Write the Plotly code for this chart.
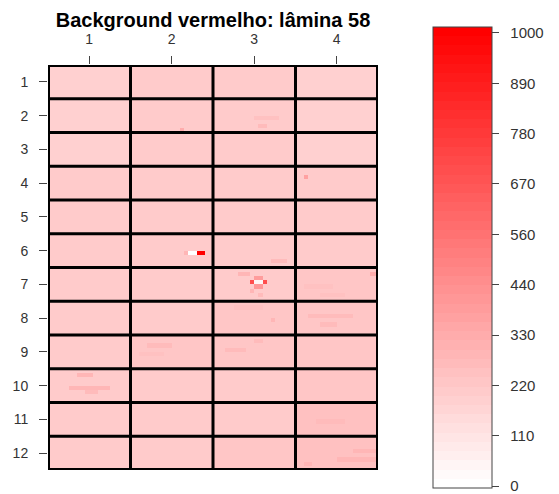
import numpy as np
import plotly.graph_objects as go

# ---- data ----
col_labels = ["1", "2", "3", "4"]
row_labels = [str(i) for i in range(1, 13)]

# mean background per block (rows 1..12, columns 1..4)
block_means = [
    [195, 205, 200, 195],
    [195, 200, 200, 190],
    [195, 200, 200, 195],
    [200, 200, 205, 200],
    [200, 200, 200, 200],
    [205, 205, 210, 205],
    [205, 205, 215, 220],
    [210, 210, 220, 230],
    [210, 225, 230, 225],
    [215, 205, 215, 235],
    [200, 205, 215, 250],
    [210, 215, 225, 260],
]

# local features: (block row, block col, sub-row, first sub-col, last sub-col, value)
features = [
    (6, 2, 4, 13, 13, 300), (6, 2, 4, 14, 15, 0), (6, 2, 4, 16, 17, 1000),
    (7, 3, 3, 9, 9, 700), (7, 3, 3, 10, 11, 40), (7, 3, 3, 12, 12, 700),
    (7, 3, 2, 10, 11, 400), (7, 3, 4, 10, 11, 420),
    (7, 3, 1, 6, 8, 300), (7, 3, 5, 9, 9, 290), (7, 3, 6, 11, 11, 270),
    (6, 3, 6, 14, 17, 280),
    (7, 4, 1, 18, 19, 330), (7, 4, 4, 2, 8, 260), (7, 4, 6, 6, 11, 260),
    (4, 4, 2, 2, 2, 380),
    (2, 2, 7, 12, 12, 330), (2, 3, 4, 10, 15, 255), (2, 3, 6, 11, 12, 280),
    (10, 1, 1, 7, 10, 300), (10, 1, 4, 5, 14, 285), (10, 1, 5, 9, 11, 280),
    (9, 2, 2, 4, 9, 265), (9, 2, 4, 2, 7, 260),
    (9, 3, 3, 3, 7, 275), (9, 3, 1, 10, 11, 265),
    (8, 3, 1, 5, 11, 260), (8, 3, 4, 14, 14, 300),
    (8, 4, 3, 3, 13, 265), (8, 4, 5, 6, 9, 270),
    (12, 4, 5, 10, 19, 290), (12, 4, 3, 14, 19, 285), (12, 4, 6, 2, 3, 290),
    (11, 4, 4, 5, 11, 275),
]

colorbar_tick_values = [0, 1000/9, 2000/9, 3000/9, 4000/9, 5000/9, 6000/9, 7000/9, 8000/9, 1000]
colorbar_tick_labels = ["0", "110", "220", "330", "440", "560", "670", "780", "890", "1000"]

# ---- build grid ----
NY, NX = 8, 20
nrow, ncol = len(block_means), len(block_means[0])
Z = np.zeros((nrow * NY, ncol * NX))
for r in range(nrow):
    for c in range(ncol):
        Z[r*NY:(r+1)*NY, c*NX:(c+1)*NX] = block_means[r][c]
for (br, bc, sy, sx0, sx1, v) in features:
    Z[(br-1)*NY + sy, (bc-1)*NX + sx0:(bc-1)*NX + sx1 + 1] = v

xs = [c + 1 + (sx + 0.5) / NX - 0.5 for c in range(ncol) for sx in range(NX)]
ys = [r + 1 + (sy + 0.5) / NY - 0.5 for r in range(nrow) for sy in range(NY)]

# stepped white->red colorscale
nsteps = 50
cs = []
for i in range(nsteps):
    g = int(round(255 * (1 - i / (nsteps - 1))))
    col = f"rgb(255,{g},{g})"
    cs.append([i / nsteps, col])
    cs.append([(i + 1) / nsteps, col])

# page body has an 8px margin -> shift everything by 8px
OFF = 8
W, H = 559 - OFF, 494 - OFF
L, R, T, B = 48 - OFF, 378 - OFF, 65 - OFF, 470 - OFF
ph = B - T
CB_L, CB_TOP, CB_BOT = 433 - OFF, 27 - OFF, 488 - OFF

NB = "\u00a0"
fig = go.Figure(go.Heatmap(
    z=Z, x=xs, y=ys, zmin=-4, zmax=1013, colorscale=cs, zsmooth=False,
    colorbar=dict(
        x=(CB_L - L) / (R - L), xanchor="left", xpad=0,
        y=(B - CB_BOT) / ph, yanchor="bottom", ypad=0,
        len=CB_BOT - CB_TOP, lenmode="pixels", thickness=59, thicknessmode="pixels",
        outlinecolor="#444", outlinewidth=1,
        tickvals=colorbar_tick_values, ticktext=[NB * 2 + t for t in colorbar_tick_labels],
        ticks="outside", ticklen=7, tickcolor="#444", ticklabeloverflow="allow",
        tickfont=dict(family="Liberation Sans, Arial", size=15, color="#333"),
    ),
    hoverinfo="skip",
))

shapes = []
for k in range(1, ncol):
    shapes.append(dict(type="line", x0=k + 0.5, x1=k + 0.5, y0=0.5, y1=nrow + 0.5,
                       line=dict(color="black", width=3)))
for k in range(1, nrow):
    shapes.append(dict(type="line", y0=k + 0.5, y1=k + 0.5, x0=0.5, x1=ncol + 0.5,
                       line=dict(color="black", width=3)))
shapes.append(dict(type="rect", x0=0.5, x1=ncol + 0.5, y0=0.5, y1=nrow + 0.5,
                   line=dict(color="black", width=4)))

fig.update_layout(
    width=W, height=H,
    margin=dict(l=L, r=W - R, t=T, b=H - B, autoexpand=False),
    paper_bgcolor="white", plot_bgcolor="white",
    shapes=shapes,
    title=dict(text="<b>Background vermelho: lâmina 58</b>", x=(L + R) / 2 / W, xanchor="center",
               y=1 - 12 / H, yanchor="middle", xref="container", yref="container",
               font=dict(family="Liberation Sans, Arial", size=20, color="black")),
    xaxis=dict(side="top", range=[0.5, ncol + 0.5], tickvals=[1, 2, 3, 4], ticktext=col_labels,
               ticks="outside", ticklen=8, tickcolor="#444", showgrid=False, zeroline=False,
               showline=False, ticklabelstandoff=6,
               tickfont=dict(family="Liberation Sans, Arial", size=14, color="#333")),
    yaxis=dict(range=[nrow + 0.5, 0.5], tickvals=list(range(1, 13)), ticktext=row_labels,
               ticks="outside", ticklen=8, tickcolor="#444", showgrid=False, zeroline=False,
               showline=False, ticklabelstandoff=8,
               tickfont=dict(family="Liberation Sans, Arial", size=14, color="#333")),
)

fig.write_html("out.html")
